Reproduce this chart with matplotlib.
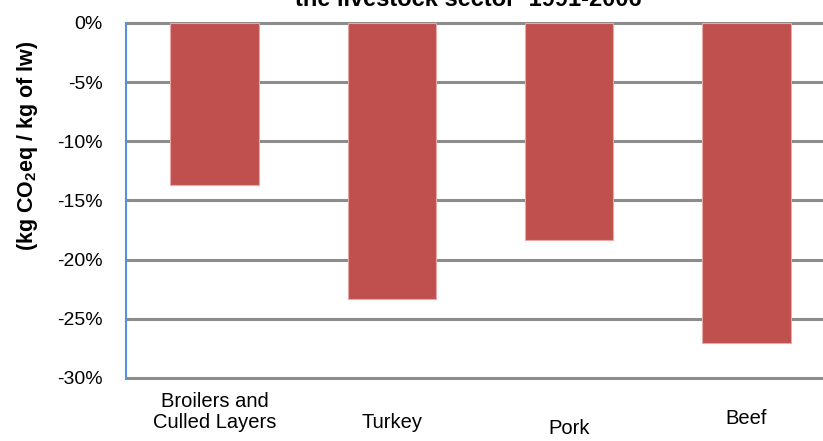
import matplotlib
matplotlib.use("Agg")
import matplotlib.pyplot as plt
import matplotlib.transforms as mtransforms
from matplotlib.ticker import FuncFormatter

categories = ["Broilers and\nCulled Layers", "Turkey", "Pork", "Beef"]
values = [-13.7, -23.3, -18.3, -27.0]
yticks = [0, -5, -10, -15, -20, -25, -30]
title_text = "the livestock sector  1991-2006"
ylabel_text = "(kg CO$_\\mathregular{2}$eq / kg of lw)"

W, H = 823, 441
fig = plt.figure(figsize=(W / 100, H / 100), dpi=100)
left, right, top, bottom = 126, 835, 23, 378
ax = fig.add_axes([left / W, 1 - bottom / H, (right - left) / W, (bottom - top) / H])

x = list(range(len(categories)))
ax.bar(x, values, width=0.5, color="#C0504D", edgecolor="#E6A9A8", linewidth=0.8, zorder=3)
ax.set_xlim(-0.5, len(categories) - 0.5)
ax.set_ylim(-30, 0)
ax.set_yticks(yticks)

fam = ["Liberation Sans", "DejaVu Sans"]
ax.yaxis.set_major_formatter(FuncFormatter(lambda v, p: f"{int(round(v))}%"))
for lab in ax.get_yticklabels():
    lab.set_fontfamily(fam)
    lab.set_fontsize(14)
ax.tick_params(axis="y", length=0, pad=17)
ax.set_xticks([])
ax.grid(axis="y", color="#8C8C8C", linewidth=2.2, zorder=0)
for gl in ax.get_ygridlines():
    gl.set_clip_on(False)
for s in ["top", "right", "bottom"]:
    ax.spines[s].set_visible(False)
ax.spines["left"].set_color("#5B8FD6")
ax.spines["left"].set_linewidth(1.5)
ax.spines["left"].set_zorder(4)

# x category labels (positions from reference)
label_y = [412, 422, 428, 418]
trans = mtransforms.blended_transform_factory(ax.transData, fig.transFigure)
for xi, lab, ly in zip(x, categories, label_y):
    ax.text(xi, 1 - ly / H, lab, transform=trans, ha="center", va="center",
            fontsize=14.5, family=fam, linespacing=1.1, clip_on=False)

fig.text(28 / W, 1 - 146 / H, ylabel_text, rotation=90, ha="center", va="center",
         fontsize=15.5, fontweight="bold", family=fam)

fig.text(468 / W, 1 - 6 / H, title_text, ha="center", va="baseline",
         fontsize=17, fontweight="bold", family=fam)

fig.savefig("out.png", dpi=100)
